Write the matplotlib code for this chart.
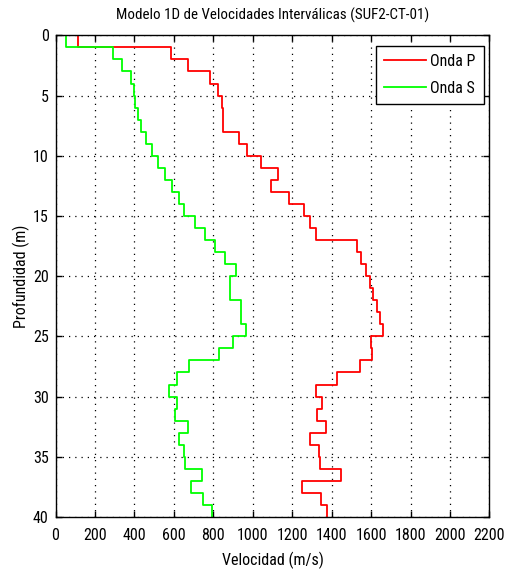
import numpy as np
import matplotlib
matplotlib.use("Agg")
import matplotlib.pyplot as plt

plt.rcParams['font.family'] = ['Roboto Condensed', 'DejaVu Sans']

# layer boundaries (m)
depth_edges = list(range(0, 41))
# interval velocities per 1 m layer (m/s)
vp = [116, 588, 671, 784, 823, 845, 849, 849, 932, 973,
      1044, 1126, 1095, 1182, 1259, 1289, 1321, 1528, 1547, 1572,
      1593, 1612, 1632, 1646, 1661, 1600, 1607, 1544, 1426, 1321,
      1350, 1326, 1372, 1289, 1334, 1341, 1447, 1250, 1345, 1375]
vs = [51, 289, 335, 381, 399, 405, 420, 435, 459, 488,
      518, 556, 592, 627, 653, 707, 758, 811, 860, 916,
      887, 887, 942, 942, 967, 901, 831, 677, 617, 575,
      617, 605, 673, 627, 651, 656, 745, 687, 750, 792]
xticks = list(range(0, 2201, 200))
yticks = list(range(0, 41, 5))

def profile(v, edges):
    x = np.repeat(np.asarray(v, float), 2)
    y = np.repeat(np.asarray(edges, float), 2)[1:-1]
    return x, y

fig = plt.figure(figsize=(5.19, 5.70), dpi=100)
ax = fig.add_axes([0.107, 0.093, 0.836, 0.845])

xp, yp = profile(vp, depth_edges)
xs, ys = profile(vs, depth_edges)
ax.plot(xp, yp, color='#ff0000', lw=1.3, label='Onda P')
ax.plot(xs, ys, color='#00ff00', lw=1.3, label='Onda S')

ax.set_xlim(0, 2200)
ax.set_ylim(40, 0)
ax.set_xticks(xticks)
ax.set_yticks(yticks)
ax.tick_params(direction='in', top=True, right=True, labelsize=11.5, length=4, width=1)
ax.tick_params(axis='x', pad=8)
ax.tick_params(axis='y', pad=5)
ax.grid(True, color='black', linestyle=(0, (1, 4)), linewidth=0.9)
for s in ax.spines.values():
    s.set_linewidth(1.0)

ax.set_title('Modelo 1D de Velocidades Interválicas (SUF2-CT-01)', fontsize=10.8, pad=11)
ax.set_xlabel('Velocidad (m/s)', fontsize=11.5, labelpad=6)
ax.set_ylabel('Profundidad (m)', fontsize=11.5, labelpad=2)

leg = ax.legend(loc='upper right', bbox_to_anchor=(0.9868, 0.9788), fontsize=11.5,
                frameon=True, fancybox=False, edgecolor='black', framealpha=1,
                borderaxespad=0, handlelength=2.6, handletextpad=0.3,
                labelspacing=0.75, borderpad=0.5)
leg.get_frame().set_linewidth(1.0)

fig.savefig('out.png', dpi=100)
